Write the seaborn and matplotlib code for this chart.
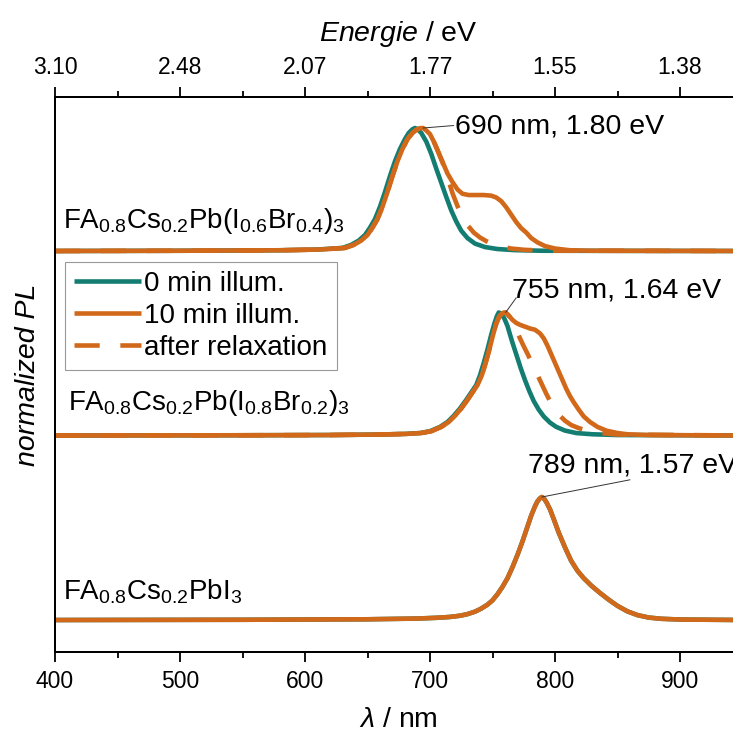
import numpy as np
import pandas as pd
import matplotlib
matplotlib.use("Agg")
import matplotlib.pyplot as plt
import seaborn as sns
from matplotlib.lines import Line2D

# ---------------- data ----------------
# Sample A: FA0.8Cs0.2Pb(I0.6Br0.4)3  (offset 3)
wl_A_0 = [400, 500, 580, 610, 630, 637, 643, 648, 652, 656, 660, 664, 668, 672, 676, 680, 683, 686, 688,
          690, 693, 697, 701, 705, 709, 713, 717, 721, 725, 730, 736, 744, 754, 768, 790, 950]
pl_A_0 = [0, 0.002, 0.006, 0.012, 0.025, 0.05, 0.085, 0.13, 0.19, 0.26, 0.36, 0.48, 0.61, 0.73, 0.83,
          0.91, 0.96, 0.99, 1.0, 0.99, 0.96, 0.89, 0.79, 0.67, 0.555, 0.44, 0.33, 0.24, 0.165, 0.105,
          0.06, 0.032, 0.016, 0.007, 0.002, 0]
wl_A_10 = [400, 500, 580, 612, 632, 639, 645, 650, 654, 658, 662, 666, 670, 674, 678, 682, 686, 689,
           692, 694.5, 697, 700, 703, 706, 710, 714, 718, 722, 726, 731, 737, 743, 749, 753, 757, 761,
           765, 769, 773, 777, 781, 786, 792, 800, 812, 830, 950]
pl_A_10 = [0, 0.002, 0.006, 0.012, 0.025, 0.05, 0.085, 0.13, 0.19, 0.26, 0.36, 0.48, 0.61, 0.73, 0.83,
           0.91, 0.96, 0.985, 0.998, 1.0, 0.98, 0.95, 0.89, 0.82, 0.725, 0.63, 0.56, 0.50, 0.465, 0.455,
           0.455, 0.455, 0.45, 0.435, 0.405, 0.355, 0.295, 0.235, 0.185, 0.15, 0.105, 0.07, 0.04, 0.02,
           0.006, 0.002, 0]
wl_A_rel = [400, 500, 580, 612, 632, 639, 645, 650, 654, 658, 662, 666, 670, 674, 678, 682, 686, 689,
            692, 694.5, 697, 700, 703, 706, 710, 714, 718, 722, 726, 730, 735, 740, 745, 750, 756, 765,
            775, 790, 950]
pl_A_rel = [0, 0.002, 0.006, 0.012, 0.025, 0.05, 0.085, 0.13, 0.19, 0.26, 0.36, 0.48, 0.61, 0.73, 0.83,
            0.91, 0.96, 0.985, 0.998, 1.0, 0.98, 0.95, 0.89, 0.82, 0.72, 0.60, 0.47, 0.365, 0.28, 0.21,
            0.15, 0.11, 0.08, 0.058, 0.038, 0.02, 0.01, 0.003, 0]

# Sample B: FA0.8Cs0.2Pb(I0.8Br0.2)3  (offset 1.5)
wl_B_0 = [400, 550, 620, 660, 680, 692, 700, 708, 714, 719, 724, 729, 733, 737, 740, 743, 746, 749,
          751.5, 753.5, 755, 757, 759.5, 762, 765.5, 769, 772.5, 776, 779.5, 783, 787, 791, 796, 801,
          808, 817, 830, 850, 950]
pl_B_0 = [0, 0.002, 0.004, 0.008, 0.013, 0.02, 0.035, 0.07, 0.11, 0.16, 0.22, 0.29, 0.35, 0.41, 0.49,
          0.59, 0.70, 0.82, 0.91, 0.97, 1.0, 0.99, 0.95, 0.89, 0.77, 0.66, 0.55, 0.45, 0.36, 0.28, 0.21,
          0.155, 0.105, 0.07, 0.04, 0.02, 0.01, 0.004, 0]
wl_B_10 = [400, 550, 620, 660, 681, 693, 701, 709, 715, 720, 725, 730, 734, 738, 741.5, 744.5, 747.5,
           750.5, 753, 755.5, 758, 760.5, 763, 766, 769, 772, 776, 780, 784, 788, 791, 794, 797, 800,
           803, 806, 809, 812, 815, 819, 823, 828, 834, 841, 850, 858, 875, 950]
pl_B_10 = [0, 0.002, 0.004, 0.008, 0.013, 0.02, 0.035, 0.07, 0.11, 0.16, 0.22, 0.29, 0.35, 0.41, 0.49,
           0.59, 0.70, 0.82, 0.91, 0.97, 0.995, 1.0, 0.975, 0.94, 0.915, 0.90, 0.885, 0.87, 0.86, 0.83,
           0.79, 0.73, 0.66, 0.59, 0.52, 0.45, 0.38, 0.32, 0.27, 0.21, 0.155, 0.11, 0.07, 0.04, 0.02,
           0.01, 0.004, 0]
wl_B_rel = [400, 550, 620, 660, 681, 693, 701, 709, 715, 720, 725, 730, 734, 738, 741.5, 744.5, 747.5,
            750.5, 753, 755.5, 758, 760.5, 763, 766, 769, 772, 775, 778, 781, 784, 787, 790, 793, 796,
            799, 803, 808, 813, 819, 826, 835, 850, 950]
pl_B_rel = [0, 0.002, 0.004, 0.008, 0.013, 0.02, 0.035, 0.07, 0.11, 0.16, 0.22, 0.29, 0.35, 0.41, 0.49,
            0.59, 0.70, 0.82, 0.91, 0.97, 0.995, 1.0, 0.975, 0.925, 0.86, 0.79, 0.725, 0.665, 0.60,
            0.535, 0.47, 0.405, 0.34, 0.28, 0.225, 0.17, 0.12, 0.085, 0.06, 0.04, 0.022, 0.008, 0]

# Sample C: FA0.8Cs0.2PbI3  (offset 0) - all three measurements coincide
wl_C = [400, 550, 650, 690, 705, 716, 724, 730, 736, 741, 746, 750, 754, 758, 762, 766, 770, 774, 778,
        781, 784, 786, 788, 789.5, 791, 793, 796, 799, 803, 808, 813, 818, 823, 829, 836, 843, 850, 858,
        866, 875, 885, 900, 950]
pl_C = [0, 0.002, 0.006, 0.012, 0.018, 0.025, 0.035, 0.048, 0.068, 0.093, 0.125, 0.16, 0.21, 0.27,
        0.34, 0.43, 0.53, 0.64, 0.76, 0.85, 0.925, 0.965, 0.99, 1.0, 0.99, 0.96, 0.90, 0.82, 0.71, 0.59,
        0.48, 0.40, 0.34, 0.28, 0.22, 0.165, 0.115, 0.07, 0.04, 0.02, 0.01, 0.004, 0]

offsets = {"A": 3.0, "B": 1.5, "C": 0.0}
sample_labels = {
    "A": r"FA$_{0.8}$Cs$_{0.2}$Pb(I$_{0.6}$Br$_{0.4}$)$_3$",
    "B": r"FA$_{0.8}$Cs$_{0.2}$Pb(I$_{0.8}$Br$_{0.2}$)$_3$",
    "C": r"FA$_{0.8}$Cs$_{0.2}$PbI$_3$",
}
peak_labels = {"A": "690 nm, 1.80 eV", "B": "755 nm, 1.64 eV", "C": "789 nm, 1.57 eV"}
legend_labels = ["0 min illum.", "10 min illum.", "after relaxation"]
x_ticks = [400, 500, 600, 700, 800, 900]
x_minor = [450, 550, 650, 750, 850, 950]
ev_labels = ["3.10", "2.48", "2.07", "1.77", "1.55", "1.38"]

TEAL = "#137d72"
ORANGE = "#d2691a"
LW = 3.3
DASH = (0, (5.5, 4.5))

# ---------------- style ----------------
sns.set_theme(style="ticks")
plt.rcParams["font.family"] = ["Liberation Sans", "DejaVu Sans"]
plt.rcParams["mathtext.fontset"] = "custom"
plt.rcParams["mathtext.rm"] = "Liberation Sans"
plt.rcParams["mathtext.it"] = "Liberation Sans:italic"
plt.rcParams["mathtext.bf"] = "Liberation Sans:bold"
for k in ["text.color", "axes.labelcolor", "xtick.color", "ytick.color", "axes.edgecolor"]:
    plt.rcParams[k] = "black"

fig = plt.figure(figsize=(7.33, 7.35), dpi=100)
ax = fig.add_axes([55 / 733, 83 / 735, 687.5 / 733, 555 / 735])

def draw(wl, pl, off, color, dashed=False):
    y = np.asarray(pl) + off
    kw = dict(linestyle=DASH) if dashed else {}
    sns.lineplot(x=wl, y=y, ax=ax, color=color, lw=LW, sort=False, estimator=None,
                 solid_capstyle="round", solid_joinstyle="round", dash_capstyle="butt", **kw)

# sample A
draw(wl_A_0, pl_A_0, offsets["A"], TEAL)
draw(wl_A_10, pl_A_10, offsets["A"], ORANGE)
draw(wl_A_rel, pl_A_rel, offsets["A"], ORANGE, dashed=True)
# sample B
draw(wl_B_0, pl_B_0, offsets["B"], TEAL)
draw(wl_B_10, pl_B_10, offsets["B"], ORANGE)
draw(wl_B_rel, pl_B_rel, offsets["B"], ORANGE, dashed=True)
# sample C
draw(wl_C, pl_C, offsets["C"], TEAL)
draw(wl_C, pl_C, offsets["C"], ORANGE)

ax.set_xlim(400, 950)
ax.set_ylim(-0.26, 4.252)

for s in ["left", "bottom", "top", "right"]:
    ax.spines[s].set_linewidth(1.4)
ax.set_yticks([])
ax.set_xticks(x_ticks)
ax.set_xticks(x_minor, minor=True)
ax.set_xticklabels([str(t) for t in x_ticks])
ax.tick_params(axis="x", which="major", direction="out", length=7, width=1.3, labelsize=16.5, pad=6)
ax.tick_params(axis="x", which="minor", direction="out", length=4, width=1.3)
ax.set_xlabel(r"$\lambda$ / nm", fontsize=20.5, labelpad=10)
ax.set_ylabel("normalized PL", fontsize=20.5, style="italic", labelpad=10)

top = ax.twiny()
top.set_xlim(ax.get_xlim())
top.set_xticks(x_ticks)
top.set_xticks(x_minor, minor=True)
top.set_xticklabels(ev_labels)
top.tick_params(axis="x", which="major", direction="out", length=7, width=1.3, labelsize=16.5, pad=6)
top.tick_params(axis="x", which="minor", direction="out", length=4, width=1.3)
top.set_xlabel(r"$\it{Energie}$ / eV", fontsize=20.5, labelpad=11)
for s in top.spines.values():
    s.set_linewidth(1.4)

# sample labels
ax.text(406.5, 3.19, sample_labels["A"], fontsize=20, va="baseline", ha="left")
ax.text(410.5, 1.707, sample_labels["B"], fontsize=20, va="baseline", ha="left")
ax.text(406.5, 0.163, sample_labels["C"], fontsize=20, va="baseline", ha="left")

# peak annotations (peak position from data)
def peak(wl, pl, off):
    i = int(np.argmax(pl))
    return wl[i], pl[i] + off

ann = [
    ("A", peak(wl_A_10, pl_A_10, offsets["A"]), (719, 4.02), (720, 4.01)),
    ("B", peak(wl_B_10, pl_B_10, offsets["B"]), (769, 2.62), (766, 2.68)),
    ("C", peak(wl_C, pl_C, offsets["C"]), (860, 1.14), (778, 1.26)),
]
for key, xy, lend, tpos in ann:
    ax.annotate("", xy=xy, xytext=lend,
                arrowprops=dict(arrowstyle="-", lw=0.7, color="#333333", shrinkA=0, shrinkB=0))
    ax.text(tpos[0], tpos[1], peak_labels[key], fontsize=20.5, va="center", ha="left")

# legend
handles = [
    Line2D([], [], color=TEAL, lw=LW, solid_capstyle="butt"),
    Line2D([], [], color=ORANGE, lw=LW, solid_capstyle="butt"),
    Line2D([], [], color=ORANGE, lw=LW, linestyle=DASH, dash_capstyle="butt"),
]
leg = ax.legend(handles, legend_labels, loc="upper left", bbox_to_anchor=(0.0145, 0.7027),
                borderaxespad=0, fontsize=20, handlelength=2.4, handletextpad=0.12,
                labelspacing=0.21, borderpad=0.33, frameon=True, fancybox=False, framealpha=1)
leg.get_frame().set_edgecolor("#999999")
leg.get_frame().set_linewidth(0.8)

fig.savefig("out.png", dpi=100)
